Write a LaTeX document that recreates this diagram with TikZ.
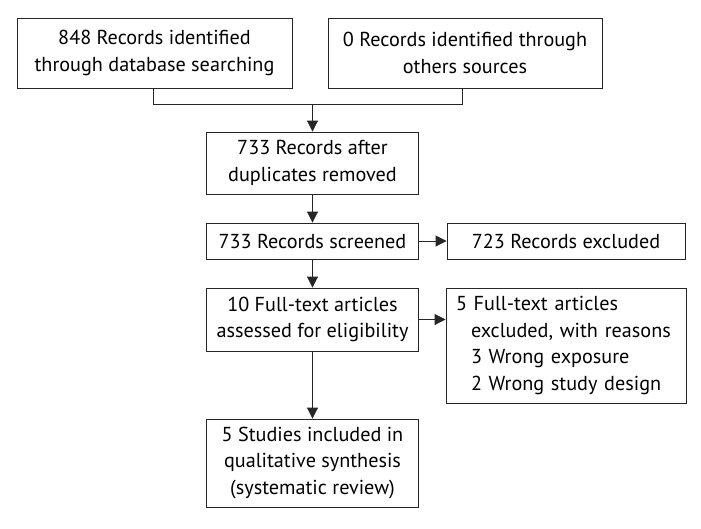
\documentclass[tikz,border=0pt]{standalone}
\usepackage{fontspec}
\setmainfont{PT Sans}
\usetikzlibrary{arrows.meta}
\begin{document}
\begin{tikzpicture}[x=1pt,y=-1pt,
  box/.style={draw=black!85,line width=0.9pt,rectangle,align=center,inner sep=0pt,
    font=\fontsize{20.2}{26.5}\selectfont},
  conn/.style={draw=black!85,line width=0.9pt},
  arr/.style={conn,-{Triangle[width=11pt,length=11pt]}}]
\useasboundingbox[fill=white] (0,0) rectangle (701,528);
\node[box,minimum width=275pt,minimum height=70pt] (b1) at (154.5,53) {848 Records identified\\through database searching};
\node[box,minimum width=274pt,minimum height=70pt] (b2) at (465,53) {0 Records identified through\\others sources};
\node[box,minimum width=212pt,minimum height=62pt] (b3) at (312.5,163) {733 Records after\\duplicates removed};
\node[box,minimum width=212pt,minimum height=36pt] (b4) at (312.5,241) {733 Records screened};
\node[box,minimum width=238pt,minimum height=36pt] (b5) at (566,241) {723 Records excluded};
\node[box,minimum width=212pt,minimum height=63pt] (b6) at (312.5,319.5) {10 Full-text articles\\assessed for eligibility};
\node[box,minimum width=238pt,minimum height=115pt,text width=220pt,inner xsep=10pt,align=left] (b7) at (566,345.5) {5 Full-text articles\\\hspace*{15pt}excluded, with reasons\\\hspace*{15pt}3 Wrong exposure\\\hspace*{15pt}2 Wrong study design};
\node[box,minimum width=212pt,minimum height=88pt] (b8) at (312.5,463) {5 Studies included in\\qualitative synthesis\\(systematic review)};
\coordinate (j1) at (153,104);
\coordinate (j2) at (462,104);
\coordinate (jm) at (312.5,104);
\draw[conn] (b1.south -| j1) -- (j1) -- (j2) -- (b2.south -| j2);
\draw[arr] (jm) -- (b3.north);
\draw[arr] (b3.south) -- (b4.north);
\draw[arr] (b4.east) -- (b5.west);
\draw[arr] (b4.south) -- (b6.north);
\draw[arr] (b6.east) -- (b6.east -| b7.west);
\draw[arr] (b6.south) -- (b8.north);
\end{tikzpicture}
\end{document}
